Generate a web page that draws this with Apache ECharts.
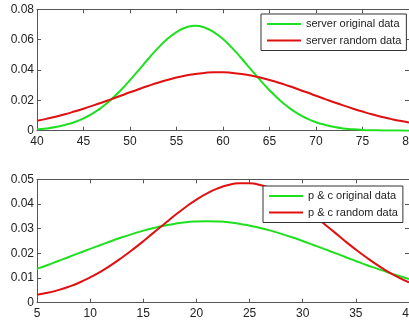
<!DOCTYPE html>
<html>
<head>
<meta charset="utf-8">
<script src="https://cdn.jsdelivr.net/npm/echarts@6/dist/echarts.min.js"></script>
<style>
html,body{margin:0;padding:0;background:#fff;}
#chart{width:409px;height:320px;}
</style>
</head>
<body>
<div id="chart"></div>
<script>
// top plot: server data, x = 40..80
var serverX = [40,41,42,43,44,45,46,47,48,49,50,51,52,53,54,55,56,57,58,59,60,
	61,62,63,64,65,66,67,68,69,70,71,72,73,74,75,76,77,78,79,80];
var serverOriginal = [0.0009,0.0015,0.0024,0.0038,0.0056,0.0081,0.0114,0.0156,0.0207,0.0267,0.0333,
	0.0404,0.0476,0.0544,0.0604,0.0650,0.0680,0.0692,0.0680,0.0650,0.0604,
	0.0544,0.0476,0.0404,0.0333,0.0267,0.0207,0.0156,0.0114,0.0081,0.0056,
	0.0038,0.0024,0.0015,0.0009,0.0005,0.0003,0.0002,0.0001,0.0001,0.0000];
var serverRandom = [0.0065,0.0078,0.0092,0.0108,0.0126,0.0145,0.0165,0.0186,0.0208,0.0230,0.0253,
	0.0275,0.0296,0.0316,0.0334,0.0350,0.0364,0.0374,0.0381,0.0385,0.0385,
	0.0381,0.0374,0.0364,0.0350,0.0334,0.0316,0.0296,0.0275,0.0253,0.0230,
	0.0208,0.0186,0.0165,0.0145,0.0126,0.0108,0.0092,0.0078,0.0065,0.0054];

// bottom plot: p & c data, x = 5..40
var pcX = [5,6,7,8,9,10,11,12,13,14,15,16,17,18,19,20,21,22,23,24,25,
	26,27,28,29,30,31,32,33,34,35,36,37,38,39,40];
var pcOriginal = [0.0138,0.0153,0.0169,0.0185,0.0202,0.0218,0.0234,0.0250,0.0265,0.0279,0.0292,
	0.0303,0.0312,0.0320,0.0326,0.0329,0.0330,0.0329,0.0326,0.0320,0.0312,
	0.0303,0.0292,0.0279,0.0265,0.0250,0.0234,0.0218,0.0202,0.0185,0.0169,
	0.0153,0.0138,0.0123,0.0109,0.0096];
var pcRandom = [0.0032,0.0040,0.0051,0.0065,0.0082,0.0103,0.0126,0.0153,0.0183,0.0215,0.0249,
	0.0285,0.0320,0.0355,0.0388,0.0418,0.0443,0.0463,0.0477,0.0484,0.0484,
	0.0477,0.0463,0.0443,0.0418,0.0388,0.0355,0.0320,0.0285,0.0249,0.0215,
	0.0183,0.0153,0.0126,0.0103,0.0082];

var topTicks = {min:40, max:80, interval:5};
var topY = {min:0, max:0.08, interval:0.02};
var botTicks = {min:5, max:40, interval:5};
var botY = {min:0, max:0.05, interval:0.01};

var green = '#1fe01f', red = '#e01010';
var axisColor = '#555', font = 'Liberation Sans, Arial, sans-serif';

function pairs(xs, ys){
	var out = [];
	for (var i = 0; i < xs.length; i++) out.push([xs[i], ys[i]]);
	return out;
}
function fmtY(v){ return v === 0 ? '0' : v.toFixed(2); }

function xAxisOf(grid, t, pos){
	return {
		type:'value', gridIndex:grid, position:pos, min:t.min, max:t.max, interval:t.interval,
		axisLine:{show:true, onZero:false, lineStyle:{color:axisColor, width:1}},
		axisTick:{show:true, inside:true, length:4, lineStyle:{color:axisColor}},
		axisLabel:{show:pos === 'bottom', margin:5, color:'#222', fontSize:12, fontFamily:font},
		splitLine:{show:false}
	};
}
function yAxisOf(grid, t, pos){
	return {
		type:'value', gridIndex:grid, position:pos, min:t.min, max:t.max, interval:t.interval,
		axisLine:{show:true, onZero:false, lineStyle:{color:axisColor, width:1}},
		axisTick:{show:true, inside:true, length:4, lineStyle:{color:axisColor}},
		axisLabel:{show:pos === 'left', margin:3, color:'#222', fontSize:12, fontFamily:font, formatter:fmtY},
		splitLine:{show:false}
	};
}
function lineOf(name, xi, yi, data, color){
	return {
		name:name, type:'line', xAxisIndex:xi, yAxisIndex:yi, data:data,
		smooth:true, showSymbol:false, symbol:'none',
		lineStyle:{color:color, width:2}, itemStyle:{color:color}
	};
}
function legendOf(names, left, top){
	return {
		data:names, orient:'vertical', left:left, top:top,
		icon:'rect', itemWidth:34, itemHeight:2, itemGap:2.5,
		padding:[3,5,3,6],
		backgroundColor:'#fff', borderColor:'#333', borderWidth:1,
		textStyle:{fontSize:11, fontFamily:font, color:'#222', lineHeight:14}
	};
}

var chart = echarts.init(document.getElementById('chart'));
chart.setOption({
	animation:false,
	grid:[
		{left:37, right:0, top:9.3, height:121.4, outerBoundsMode:'none'},
		{left:37, right:0, top:179.3, height:123.4, outerBoundsMode:'none'}
	],
	xAxis:[
		xAxisOf(0, topTicks, 'bottom'), xAxisOf(0, topTicks, 'top'),
		xAxisOf(1, botTicks, 'bottom'), xAxisOf(1, botTicks, 'top')
	],
	yAxis:[
		yAxisOf(0, topY, 'left'), yAxisOf(0, topY, 'right'),
		yAxisOf(1, botY, 'left'), yAxisOf(1, botY, 'right')
	],
	legend:[
		legendOf(['server original data','server random data'], 261, 14),
		legendOf(['p & c original data','p & c random data'], 263, 186)
	],
	series:[
		lineOf('server original data', 0, 0, pairs(serverX, serverOriginal), green),
		lineOf('server random data', 0, 0, pairs(serverX, serverRandom), red),
		lineOf('p & c original data', 2, 2, pairs(pcX, pcOriginal), green),
		lineOf('p & c random data', 2, 2, pairs(pcX, pcRandom), red)
	]
});
</script>
</body>
</html>
